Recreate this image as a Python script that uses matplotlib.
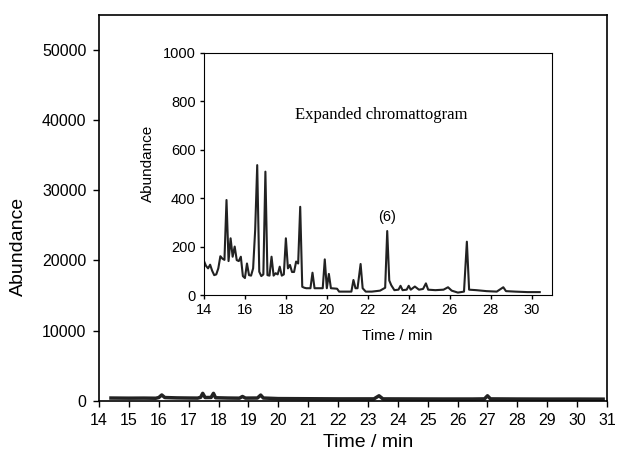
import numpy as np
import matplotlib.pyplot as plt

plt.rcParams['font.family'] = ['Liberation Sans', 'DejaVu Sans']

# full chromatogram (time in min, abundance)
main_t = [14.4, 15.0, 15.5, 15.9, 16.0, 16.1, 16.2, 16.6, 17.0, 17.3, 17.4, 17.47, 17.55,
          17.75, 17.83, 17.9, 18.3, 18.7, 18.8, 18.9, 19.3, 19.41, 19.5, 20.0, 21.0, 22.0,
          23.2, 23.37, 23.5, 24.5, 25.5, 26.5, 26.9, 27.0, 27.1, 28.0, 29.0, 30.0, 30.87]
main_a = [380, 360, 370, 350, 450, 820, 450, 400, 380, 370, 480, 1050, 450,
          460, 1050, 420, 380, 360, 600, 370, 380, 800, 380, 300, 280, 260,
          260, 700, 260, 250, 240, 240, 260, 700, 260, 240, 230, 230, 220]

# expanded region
exp_t = [14.0, 14.1, 14.2, 14.3, 14.4, 14.5, 14.6, 14.7, 14.8, 14.9, 15.0, 15.1, 15.2,
         15.3, 15.4, 15.5, 15.6, 15.7, 15.8, 15.9, 16.0, 16.1, 16.2, 16.3, 16.4, 16.5,
         16.6, 16.7, 16.8, 16.9, 17.0, 17.1, 17.2, 17.3, 17.4, 17.5, 17.6, 17.7, 17.8,
         17.9, 18.0, 18.1, 18.2, 18.3, 18.4, 18.5, 18.6, 18.7, 18.8, 18.9, 19.0, 19.2,
         19.3, 19.4, 19.6, 19.8, 19.9, 20.0, 20.1, 20.2, 20.5, 20.6, 21.0, 21.2, 21.3,
         21.4, 21.5, 21.65, 21.75, 21.9, 22.2, 22.6, 22.85, 22.95, 23.05, 23.15, 23.3,
         23.5, 23.6, 23.7, 23.9, 24.0, 24.1, 24.3, 24.5, 24.7, 24.84, 24.95, 25.3, 25.7,
         25.92, 26.1, 26.4, 26.7, 26.84, 26.95, 27.3, 27.8, 28.3, 28.62, 28.75, 29.2,
         29.8, 30.4]
exp_a = [140, 120, 110, 125, 100, 82, 85, 110, 160, 150, 145, 392, 140,
         234, 158, 200, 144, 140, 158, 78, 70, 130, 82, 80, 110, 268,
         536, 96, 78, 85, 509, 82, 80, 158, 80, 90, 85, 117, 80,
         85, 234, 110, 124, 95, 95, 138, 130, 364, 34, 30, 28, 28,
         92, 28, 28, 28, 147, 28, 87, 28, 26, 14, 14, 14, 62,
         28, 28, 128, 28, 14, 14, 18, 30, 264, 60, 40, 20,
         22, 38, 20, 22, 38, 22, 35, 22, 25, 48, 22, 20, 22,
         32, 18, 10, 14, 220, 22, 20, 16, 14, 32, 16, 14,
         12, 12]

fig = plt.figure(figsize=(6.17, 4.54), dpi=100)
ax = fig.add_axes([0.1605, 0.1174, 0.8233, 0.8502])
ax.plot(main_t, main_a, color='#222222', lw=2.5)
ax.set_xlim(14, 31)
ax.set_ylim(0, 55000)
ax.set_xticks(np.arange(14, 32, 1))
ax.set_yticks(np.arange(0, 60000, 10000))
ax.tick_params(direction='out', length=4, width=1, labelsize=11.5, pad=5)
for s in ax.spines.values():
    s.set_linewidth(1.2)
ax.set_xlabel('Time / min', fontsize=14)
ax.set_ylabel('Abundance', fontsize=14)
ax.xaxis.set_label_coords(0.53, -0.085)
ax.yaxis.set_label_coords(-0.142, 0.40)

ins = fig.add_axes([0.3306, 0.3502, 0.5641, 0.5338])
ins.plot(exp_t, exp_a, color='#222222', lw=1.5)
ins.set_xlim(14, 31)
ins.set_ylim(0, 1000)
ins.set_xticks(np.arange(14, 32, 2))
ins.set_yticks(np.arange(0, 1200, 200))
ins.tick_params(direction='out', length=3, width=1, labelsize=10.5, pad=3)
ins.set_xlabel('Time / min', fontsize=11)
ins.set_ylabel('Abundance', fontsize=11)
ins.xaxis.set_label_coords(0.555, -0.14)
ins.yaxis.set_label_coords(-0.14, 0.545)
ins.text(22.68, 743, 'Expanded chromattogram', family='Liberation Serif',
         fontsize=12, ha='center', va='center')
ins.text(22.94, 323, '(6)', fontsize=10.5, ha='center', va='center')

fig.savefig('out.png', dpi=100)
